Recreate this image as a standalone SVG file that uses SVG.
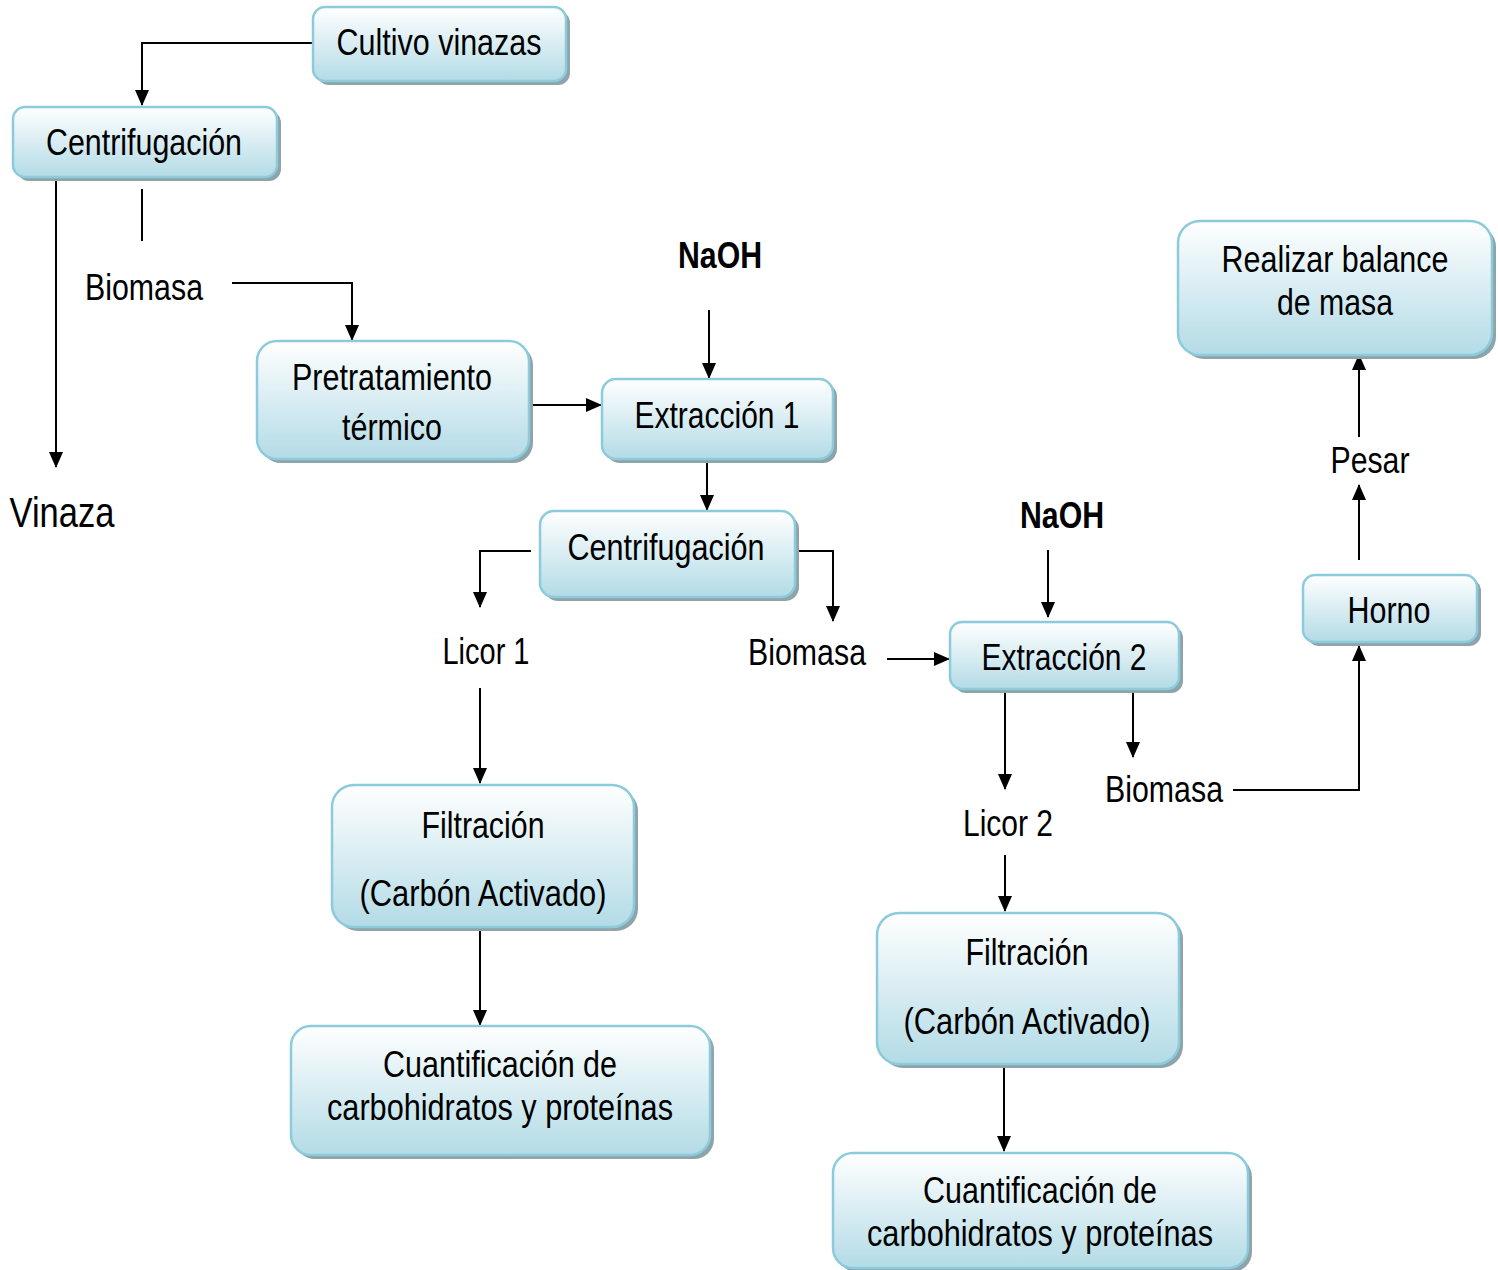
<svg xmlns="http://www.w3.org/2000/svg" width="1498" height="1270" viewBox="0 0 1498 1270">
<defs>
<linearGradient id="g" x1="0" y1="0" x2="0" y2="1">
<stop offset="0" stop-color="#ffffff"/>
<stop offset="1" stop-color="#b3dbe6"/>
</linearGradient>
<marker id="a" viewBox="0 0 16 14" refX="15" refY="7" markerWidth="16" markerHeight="14" markerUnits="userSpaceOnUse" orient="auto">
<path d="M0,0 L16,7 L0,14 Z" fill="#000"/>
</marker>
</defs>
<style>
.sh{fill:#8fa3aa;}
.bx{fill:url(#g);stroke:#8ccbdb;stroke-width:2.5;}
text{font-family:"Liberation Sans Narrow","Liberation Sans",Arial,sans-serif;font-size:37px;fill:#000;text-anchor:middle;}
.b{font-weight:bold;}
.c{fill:none;stroke:#000;stroke-width:2;}
.ca{fill:none;stroke:#000;stroke-width:2;marker-end:url(#a);}
</style>
<rect width="1498" height="1270" fill="#fff"/>

<g id="connectors">
<path class="ca" d="M313,43 H142 V105"/>
<path class="ca" d="M56,175 V467"/>
<path class="c" d="M142,189 V241"/>
<path class="ca" d="M232,283 H352 V340"/>
<path class="ca" d="M530,405 H601"/>
<path class="ca" d="M709,310 V378"/>
<path class="ca" d="M707,457 V510"/>
<path class="ca" d="M531,551 H480 V607"/>
<path class="ca" d="M797,551 H833 V621"/>
<path class="ca" d="M480,688 V783"/>
<path class="ca" d="M480,928 V1025"/>
<path class="ca" d="M887,659 H949"/>
<path class="ca" d="M1048,550 V617"/>
<path class="ca" d="M1005,690 V789"/>
<path class="ca" d="M1133,690 V757"/>
<path class="ca" d="M1005,855 V911"/>
<path class="ca" d="M1004,1064 V1151"/>
<path class="ca" d="M1233,790 H1359 V646"/>
<path class="ca" d="M1359,560 V485"/>
<path class="ca" d="M1359,437 V355"/>
</g>

<g id="cultivo">
<rect class="sh" x="317" y="11" width="253" height="74" rx="12"/>
<rect class="bx" x="313" y="7" width="253" height="74" rx="12"/>
<text x="439" y="55" textLength="205" lengthAdjust="spacingAndGlyphs">Cultivo vinazas</text>
</g>
<g id="centrif1">
<rect class="sh" x="17" y="111" width="264" height="70" rx="12"/>
<rect class="bx" x="13" y="107" width="264" height="70" rx="12"/>
<text x="144" y="155" textLength="196" lengthAdjust="spacingAndGlyphs">Centrifugación</text>
</g>
<g id="biomasa1"><text x="144" y="300" textLength="118" lengthAdjust="spacingAndGlyphs">Biomasa</text></g>
<g id="vinaza"><text x="62" y="527" style="font-size:42px" textLength="105" lengthAdjust="spacingAndGlyphs">Vinaza</text></g>
<g id="naoh1"><text class="b" x="720" y="268" textLength="84" lengthAdjust="spacingAndGlyphs">NaOH</text></g>
<g id="pretrat">
<rect class="sh" x="261" y="345" width="272" height="118" rx="20"/>
<rect class="bx" x="257" y="341" width="272" height="118" rx="20"/>
<text x="392" y="390" textLength="200" lengthAdjust="spacingAndGlyphs">Pretratamiento</text>
<text x="392" y="440" textLength="100" lengthAdjust="spacingAndGlyphs">térmico</text>
</g>
<g id="extr1">
<rect class="sh" x="606" y="383" width="231" height="80" rx="14"/>
<rect class="bx" x="602" y="379" width="231" height="80" rx="14"/>
<text x="717" y="428" textLength="165" lengthAdjust="spacingAndGlyphs">Extracción 1</text>
</g>
<g id="centrif2">
<rect class="sh" x="544" y="515" width="255" height="86" rx="14"/>
<rect class="bx" x="540" y="511" width="255" height="86" rx="14"/>
<text x="666" y="560" textLength="197" lengthAdjust="spacingAndGlyphs">Centrifugación</text>
</g>
<g id="licor1"><text x="486" y="664" textLength="87" lengthAdjust="spacingAndGlyphs">Licor 1</text></g>
<g id="biomasa2"><text x="807" y="665" textLength="118" lengthAdjust="spacingAndGlyphs">Biomasa</text></g>
<g id="naoh2"><text class="b" x="1062" y="528" textLength="84" lengthAdjust="spacingAndGlyphs">NaOH</text></g>
<g id="extr2">
<rect class="sh" x="954" y="626" width="229" height="67" rx="12"/>
<rect class="bx" x="950" y="622" width="229" height="67" rx="12"/>
<text x="1064" y="670" textLength="165" lengthAdjust="spacingAndGlyphs">Extracción 2</text>
</g>
<g id="biomasa3"><text x="1164" y="802" textLength="118" lengthAdjust="spacingAndGlyphs">Biomasa</text></g>
<g id="licor2"><text x="1008" y="836" textLength="90" lengthAdjust="spacingAndGlyphs">Licor 2</text></g>
<g id="filtr1">
<rect class="sh" x="336" y="789" width="302" height="142" rx="22"/>
<rect class="bx" x="332" y="785" width="302" height="142" rx="22"/>
<text x="483" y="838" textLength="123" lengthAdjust="spacingAndGlyphs">Filtración</text>
<text x="483" y="906" textLength="247" lengthAdjust="spacingAndGlyphs">(Carbón Activado)</text>
</g>
<g id="cuant1">
<rect class="sh" x="295" y="1030" width="419" height="129" rx="20"/>
<rect class="bx" x="291" y="1026" width="419" height="129" rx="20"/>
<text x="500" y="1077" textLength="234" lengthAdjust="spacingAndGlyphs">Cuantificación de</text>
<text x="500" y="1120" textLength="346" lengthAdjust="spacingAndGlyphs">carbohidratos y proteínas</text>
</g>
<g id="filtr2">
<rect class="sh" x="881" y="917" width="302" height="151" rx="22"/>
<rect class="bx" x="877" y="913" width="302" height="151" rx="22"/>
<text x="1027" y="965" textLength="123" lengthAdjust="spacingAndGlyphs">Filtración</text>
<text x="1027" y="1034" textLength="247" lengthAdjust="spacingAndGlyphs">(Carbón Activado)</text>
</g>
<g id="cuant2">
<rect class="sh" x="837" y="1157" width="415" height="115" rx="20"/>
<rect class="bx" x="833" y="1153" width="415" height="115" rx="20"/>
<text x="1040" y="1203" textLength="234" lengthAdjust="spacingAndGlyphs">Cuantificación de</text>
<text x="1040" y="1246" textLength="346" lengthAdjust="spacingAndGlyphs">carbohidratos y proteínas</text>
</g>
<g id="balance">
<rect class="sh" x="1182" y="225" width="314" height="134" rx="22"/>
<rect class="bx" x="1178" y="221" width="314" height="134" rx="22"/>
<text x="1335" y="272" textLength="227" lengthAdjust="spacingAndGlyphs">Realizar balance</text>
<text x="1335" y="315" textLength="116" lengthAdjust="spacingAndGlyphs">de masa</text>
</g>
<g id="pesar"><text x="1370" y="473" textLength="79" lengthAdjust="spacingAndGlyphs">Pesar</text></g>
<g id="horno">
<rect class="sh" x="1307" y="579" width="174" height="67" rx="12"/>
<rect class="bx" x="1303" y="575" width="174" height="67" rx="12"/>
<text x="1389" y="623" textLength="83" lengthAdjust="spacingAndGlyphs">Horno</text>
</g>
</svg>
